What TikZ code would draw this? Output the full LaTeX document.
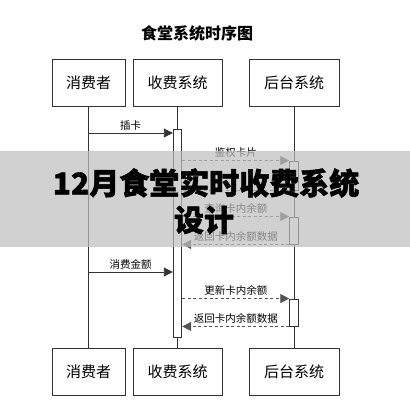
\documentclass[tikz,border=0pt]{standalone}
\usepackage{fontspec}
\usepackage{tikz}
\usetikzlibrary{arrows.meta,positioning}
\newfontfamily\cjk{Noto Sans CJK SC}
\newfontfamily\cjkheavy{Noto Sans CJK SC}[BoldFeatures={FakeBold=1.6}]
\definecolor{SeqLine}{HTML}{333333}
\definecolor{SeqDash}{HTML}{555555}
\definecolor{SeqBand}{HTML}{BEBEBE}
\tikzset{
  actor/.style={draw=SeqLine, line width=0.9pt, fill=white, minimum height=47pt,
                inner sep=2pt, font=\cjk\fontsize{15}{18}\selectfont},
  life/.style={draw=SeqLine, line width=0.9pt},
  active/.style={draw=SeqLine, line width=0.9pt, fill=white, inner sep=0pt, minimum width=8.5pt},
  call/.style={-{Triangle[length=9pt,width=9pt]}, line width=0.9pt, draw=SeqLine},
  reply/.style={-{Triangle[length=9pt,width=9pt]}, line width=0.8pt, draw=SeqDash,
                dash pattern=on 3pt off 2.5pt},
  msg/.style={above=1.5pt, inner sep=1pt, font=\cjk\fontsize{10.5}{12}\selectfont, text=black},
  band/.style={fill=SeqBand, fill opacity=0.7},
  banner/.style={font=\cjkheavy\bfseries\fontsize{30}{34}\selectfont, text=black, inner sep=0pt},
}
\begin{document}
\begin{tikzpicture}[x=1pt,y=-1pt]
  \useasboundingbox (0,0) rectangle (410,400);
  \node[font=\cjk\bfseries\fontsize{16}{19}\selectfont] (heading) at (197,33) {食堂系统时序图};
  \node[actor,minimum width=73pt] (userT) at (88.5,83) {消费者};
  \node[actor,minimum width=89pt] (posT) at (177.5,83) {收费系统};
  \node[actor,minimum width=90pt] (backT) at (294,83) {后台系统};
  \node[actor,minimum width=73pt] (userB) at (88.5,371.5) {消费者};
  \node[actor,minimum width=89pt] (posB) at (177.5,371.5) {收费系统};
  \node[actor,minimum width=90pt] (backB) at (294,371.5) {后台系统};
  \draw[life] (userT) -- (userB);
  \draw[life] (posT) -- (posB);
  \draw[life] (backT) -- (backB);
  \node[active,minimum height=208pt] (posAct) at (177.5,233) {};
  \node[active,minimum height=29pt] (backAct1) at (294,175.5) {};
  \node[active,minimum height=27pt] (backAct2) at (294,230.5) {};
  \node[active,minimum height=27pt] (backAct3) at (294,312.5) {};
  \draw[call] (userT |- 0,133) -- node[msg] {插卡} (posAct.west |- 0,133);
  \draw[reply] (posAct.east |- backAct1.north) -- node[msg] {鉴权卡片} (backAct1.north west);
  \draw[reply] (backAct1.south west) -- (posAct.east |- backAct1.south);
  \draw[reply] (posAct.east |- backAct2.north) -- node[msg] {查询卡内余额} (backAct2.north west);
  \draw[reply] (backAct2.south west) -- node[msg] {返回卡内余额数据} (posAct.east |- backAct2.south);
  \draw[call] (userT |- 0,272) -- node[msg] {消费金额} (posAct.west |- 0,272);
  \draw[reply] (posAct.east |- backAct3.north) -- node[msg] {更新卡内余额} (backAct3.north west);
  \draw[reply] (backAct3.south west) -- node[msg] {返回卡内余额数据} (posAct.east |- backAct3.south);
  \fill[band] (0,151) rectangle (410,247);
  \node[banner] (banner1) at (206,183) {12月食堂实时收费系统};
  \node[banner] (banner2) at (204,220) {设计};
\end{tikzpicture}
\end{document}
